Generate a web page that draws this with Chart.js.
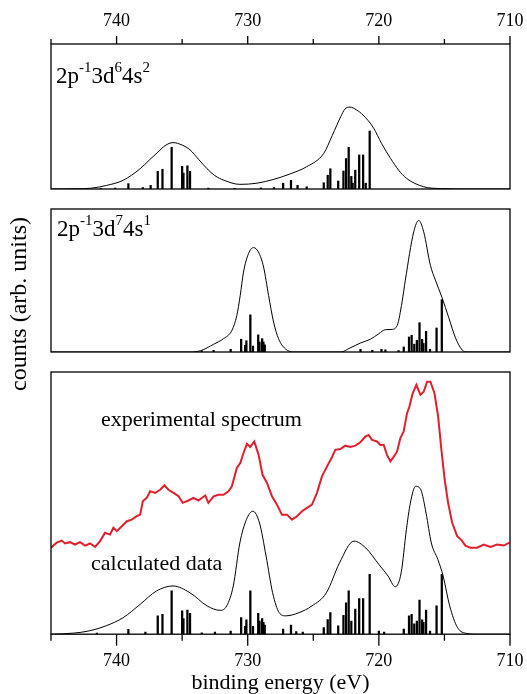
<!DOCTYPE html>
<html>
<head>
<meta charset="utf-8">
<script src="https://cdn.jsdelivr.net/npm/chart.js@4.4.0/dist/chart.umd.min.js"></script>
<style>
  body { margin: 0; background: #fff; }
  #wrap { position: relative; width: 527px; height: 694px; font-family: "Liberation Serif", "Times New Roman", serif; color: #000; }
  canvas { position: absolute; left: 0; }
  .note { position: absolute; font-size: 23px; line-height: 23px; white-space: nowrap; }
  .note .sup { font-size: 15px; position: relative; top: -11px; }
  .lab { position: absolute; font-size: 22px; line-height: 22px; white-space: nowrap; }
  #ylab { position: absolute; left: -102px; top: 292px; width: 240px; text-align: center;
          font-size: 24px; line-height: 24px; transform: rotate(-90deg); white-space: nowrap; }
</style>
</head>
<body>
<div id="wrap">
  <canvas id="cTop" width="527" height="192" style="top:0px"></canvas>
  <canvas id="cMid" width="527" height="160" style="top:200px"></canvas>
  <canvas id="cBot" width="527" height="334" style="top:360px"></canvas>
  <div class="note" style="left:56px; top:64px">2p<span class="sup">-1</span>3d<span class="sup">6</span>4s<span class="sup">2</span></div>
  <div class="note" style="left:57px; top:217px">2p<span class="sup">-1</span>3d<span class="sup">7</span>4s<span class="sup">1</span></div>
  <div class="lab" style="left:101px; top:408px">experimental spectrum</div>
  <div class="lab" style="left:91px; top:552px">calculated data</div>
  <div id="ylab">counts (arb. units)</div>
</div>
<script>
// x range (binding energy, eV), drawn reversed
const xMin = 710, xMax = 745;
const tickStep = 5;

// 2p-1 3d6 4s2 : broadened envelope and line strengths  [eV, counts]
const envTop = [[745,0],[743,0.2],[742,0.5],[740.75,2.5],[739.5,6],[738.2,14],[737.5,20],[736.9,25],[736.3,29.9],
  [735.7,32],[735.0,30.3],[734.4,27],[733.75,20.5],[733.1,14],[732.5,9.2],[731.8,6],[730.6,3.2],[729.3,4],[728,6.7],
  [726.8,10.3],[725.5,15.4],[724.2,24.6],[723.55,37],[722.9,50],[722.6,55],[722.2,56.5],[721.7,54.5],[721.2,51],
  [720.4,42],[719.8,31.5],[719.1,21],[718.5,13.1],[717.9,7.4],[716.6,1.6],[715.3,0.3],[713,0],[710,0]];
const sticksTop = [[741.2,0.5],[740.1,0.7],[739.1,3.7],[738.0,1],[737.4,2.5],[736.86,12.2],[736.5,13.6],[735.8,28.7],
  [735.0,15.6],[734.9,11],[734.6,16],[734.4,12.2],[733.0,0.6],[731.0,0.5],[729.0,0.8],[728.0,1],[727.3,4],[726.7,6],
  [726.2,2.5],[725.5,1.5],[724.2,4.3],[723.9,9.5],[723.7,14],[723.1,5.5],[722.7,12.4],[722.5,21],[722.3,28.7],
  [722.1,8.7],[722.0,4],[721.8,13],[721.5,23.5],[721.2,23.5],[721.0,4],[720.7,40]];

// 2p-1 3d7 4s1
const envMid = [[745,0],[734.4,0],[733.6,0.9],[732.6,5.4],[731.85,9.3],[731.2,15.2],[730.83,25.6],[730.57,39.6],
  [730.32,55.9],[729.94,68.8],[729.56,73],[729.18,69.9],[728.79,59.4],[728.41,39.6],[728.03,21],[727.65,9.3],
  [727.14,2.3],[726.5,0],[722.9,0],[722.2,2.8],[721.4,6.3],[720.65,8.9],[720.0,12.8],[719.5,15.6],[719.0,15.8],
  [718.6,18.6],[718.23,35],[717.98,50.3],[717.34,84],[716.96,92],[716.58,84],[716.07,60.6],[715.69,50.3],
  [715.18,38],[714.67,24],[714.16,10],[713.65,1.4],[713.27,0],[710,0]];
const sticksMid = [[733.5,0.8],[732.6,1.2],[731.3,1.9],[730.5,8.9],[730.2,4.7],[730.1,7.9],[729.8,26],[729.6,4.2],
  [729.2,12],[729.1,7],[728.9,9.3],[728.8,7],[728.7,5],[721.4,1.9],[720.5,1.2],[719.8,1.9],[719.5,1.5],[718.5,1],
  [718.1,3.5],[717.7,10.5],[717.5,11.7],[717.3,5.5],[717.1,8.2],[716.9,20.5],[716.7,8.9],[716.6,6],[716.4,14.5],
  [716.1,1.9],[715.6,16.8],[715.2,36.6]];

// calculated sum and all lines
const envBot = [[745,0],[743.3,0.4],[742.05,1.3],[740.8,3.2],[739.5,6.3],[738.2,11.4],[736.95,16.5],[735.7,18.4],
  [734.4,15.8],[733.1,10.8],[732.1,9.1],[731.6,10.8],[731.1,18.4],[730.6,34.8],[730.1,43.7],[729.6,46.9],
  [729.1,42.4],[728.6,29.8],[728.1,15.8],[727.6,8.2],[727.1,7.0],[726.1,8.2],[725.1,10.8],[724.0,15.8],
  [723.0,27.2],[721.9,35.5],[721.0,32.9],[720.0,26.6],[719.3,22.2],[718.75,18.1],[718.3,23.4],[717.9,39.9],
  [717.6,50],[717.2,56.4],[716.8,55.1],[716.4,46.2],[716.0,34.8],[715.5,28.5],[715.1,22.2],[714.6,10.8],
  [714.0,2.5],[713.3,0.3],[712.5,0],[710,0]];
const sticksBot = [[741.5,0.4],[739.1,1.9],[737.8,0.8],[736.86,7.0],[736.5,7.6],[735.8,16.5],[735.0,8.9],[734.9,6],
  [734.6,9.2],[734.4,8],[733.5,0.5],[732.5,0.8],[731.3,1.2],[730.5,6.3],[730.2,3],[730.1,5.5],[729.8,16.5],
  [729.6,3],[729.2,8],[729.1,5],[728.9,6],[728.8,4.5],[728.7,3.5],[727.3,2],[726.7,3.5],[726.3,1],[725.8,0.8],
  [724.2,2.5],[723.9,5.6],[723.7,8.2],[723.1,3.2],[722.7,7.2],[722.5,12],[722.3,16.5],[722.1,5],[721.8,9.6],
  [721.5,13.6],[721.2,13.6],[720.7,22.8],[720.0,1.2],[719.6,0.8],[718.1,2],[717.7,7],[717.5,7.6],[717.3,4],
  [717.1,5],[716.9,13],[716.7,5.5],[716.6,4.5],[716.4,9.2],[716.1,1.2],[715.6,10.8],[715.2,22.8]];

// experimental spectrum
const expData = [[745,33.0],[744.57,34.9],[744.18,35.7],[743.93,34.6],[743.55,35.1],[743.17,34.2],[742.79,35.1],
  [742.4,33.8],[742.02,34.6],[741.64,33.3],[741.26,35.5],[740.88,38.7],[740.5,38.0],[740.24,40.6],[739.98,39.3],
  [739.6,41.2],[739.22,43.1],[738.84,43.7],[738.46,45.0],[738.2,45.6],[738.0,50.7],[737.7,52.0],[737.44,54.5],
  [737.06,53.9],[736.68,55.1],[736.35,56.8],[736.05,55.1],[735.66,53.9],[735.28,52.6],[734.95,50.1],[734.52,51.0],
  [734.14,52.0],[733.76,51.0],[733.24,52.9],[733.0,50.1],[732.6,52.6],[732.23,53.2],[731.85,53.2],[731.47,54.5],
  [731.21,56.4],[730.83,63.4],[730.57,65.3],[730.32,69.1],[730.06,72.6],[729.81,71.4],[729.5,73.5],[729.17,68.4],
  [728.87,60.8],[728.53,57.7],[728.15,52.6],[727.77,49.4],[727.39,45.6],[727.0,45.6],[726.63,43.7],[726.24,45.0],
  [725.86,46.9],[725.48,48.2],[725.1,49.4],[724.72,53.9],[724.34,60.2],[723.95,64.0],[723.57,67.6],[723.32,70.3],
  [722.94,70.6],[722.56,71.9],[722.18,71.4],[721.79,71.9],[721.41,73.2],[721.03,75.4],[720.78,76.0],[720.52,74.1],
  [720.14,73.5],[719.89,72.2],[719.63,72.2],[719.38,68.4],[719.12,65.9],[718.87,67.6],[718.61,69.7],[718.36,74.8],
  [718.11,77.3],[717.85,84.3],[717.67,86.8],[717.42,91.9],[717.14,95.1],[716.83,91.3],[716.58,92.5],[716.32,96.3],
  [716.07,96.3],[715.76,91.9],[715.48,83.0],[715.23,70.3],[714.98,58.9],[714.72,50.1],[714.41,42.5],[714.03,37.4],
  [713.7,35.9],[713.4,33.8],[713.02,33.0],[712.5,33.0],[712.0,34.2],[711.49,33.3],[710.98,34.2],[710.47,33.8],
  [710.04,34.9]];

Chart.defaults.font.family = "'Liberation Serif', 'Times New Roman', serif";
Chart.defaults.color = '#000';

const pts = arr => arr.map(p => ({ x: p[0], y: p[1] }));

// box round the plot area plus outward tick marks
const framePlugin = {
  id: 'frame',
  afterDraw(chart, args, opts) {
    const { ctx, chartArea: a } = chart;
    ctx.save();
    ctx.strokeStyle = '#000';
    ctx.lineWidth = 1.3;
    ctx.strokeRect(a.left, a.top, a.right - a.left, a.bottom - a.top);
    if (opts.side) {
      const xs = chart.scales.x;
      const y0 = opts.side === 'top' ? a.top : a.bottom;
      const dir = opts.side === 'top' ? -1 : 1;
      xs.ticks.forEach(t => {
        const px = xs.getPixelForValue(t.value);
        const len = t.value % 10 === 0 ? opts.major : opts.minor;
        ctx.beginPath();
        ctx.moveTo(px, y0);
        ctx.lineTo(px, y0 + dir * len);
        ctx.stroke();
      });
    }
    ctx.restore();
  }
};

function envLine(data, color, width, smooth) {
  return {
    type: 'line', data: pts(data), borderColor: color, borderWidth: width,
    pointRadius: 0, fill: false,
    cubicInterpolationMode: smooth ? 'monotone' : 'default', tension: 0
  };
}
function stickBars(data) {
  return {
    type: 'bar', data: pts(data), backgroundColor: '#000', borderWidth: 0,
    barThickness: 1.6, grouped: false
  };
}

// tickLength only sets the gap to the labels, the marks are drawn by framePlugin
function xAxis(pos, show, gap) {
  return {
    type: 'linear', position: pos, reverse: true, min: xMin, max: xMax, offset: false,
    display: show,
    grid: { display: false, drawTicks: true, tickLength: gap }, border: { display: false },
    afterFit(scale) { scale.paddingLeft = 0; scale.paddingRight = 0; },
    ticks: {
      stepSize: tickStep, autoSkip: false, maxRotation: 0, padding: 1,
      font: { size: 18, lineHeight: pos === 'top' ? 1.2 : 1.1 },
      color: '#000',
      callback: v => (v % 10 === 0 ? String(v) : '')
    }
  };
}

function makePanel(id, datasets, x, pad, frame) {
  new Chart(document.getElementById(id), {
    type: 'line',
    data: { datasets },
    options: {
      responsive: false, animation: false,
      layout: { padding: pad },
      plugins: { legend: { display: false }, tooltip: { enabled: false }, frame },
      scales: { x, y: { display: false, min: 0, max: 100 } }
    },
    plugins: [framePlugin]
  });
}

makePanel('cTop', [envLine(envTop, '#000', 1, true), stickBars(sticksTop)],
  xAxis('top', true, 11), { left: 51, right: 17, top: 9.4, bottom: 3 },
  { side: 'top', major: 8, minor: 5 });

makePanel('cMid', [envLine(envMid, '#000', 1, true), stickBars(sticksMid)],
  xAxis('bottom', false, 0), { left: 51, right: 17, top: 9, bottom: 8 },
  { side: null });

const xBot = xAxis('bottom', true, 16);
xBot.title = { display: true, text: 'binding energy (eV)', color: '#000',
  font: { size: 22, lineHeight: 1.0 }, padding: { top: 0, bottom: 0 } };
makePanel('cBot', [envLine(expData, '#e0202c', 2, false), envLine(envBot, '#000', 1, true), stickBars(sticksBot)],
  xBot, { left: 51, right: 17, top: 12, bottom: 0 },
  { side: 'bottom', major: 11.5, minor: 6.5 });
</script>
</body>
</html>
